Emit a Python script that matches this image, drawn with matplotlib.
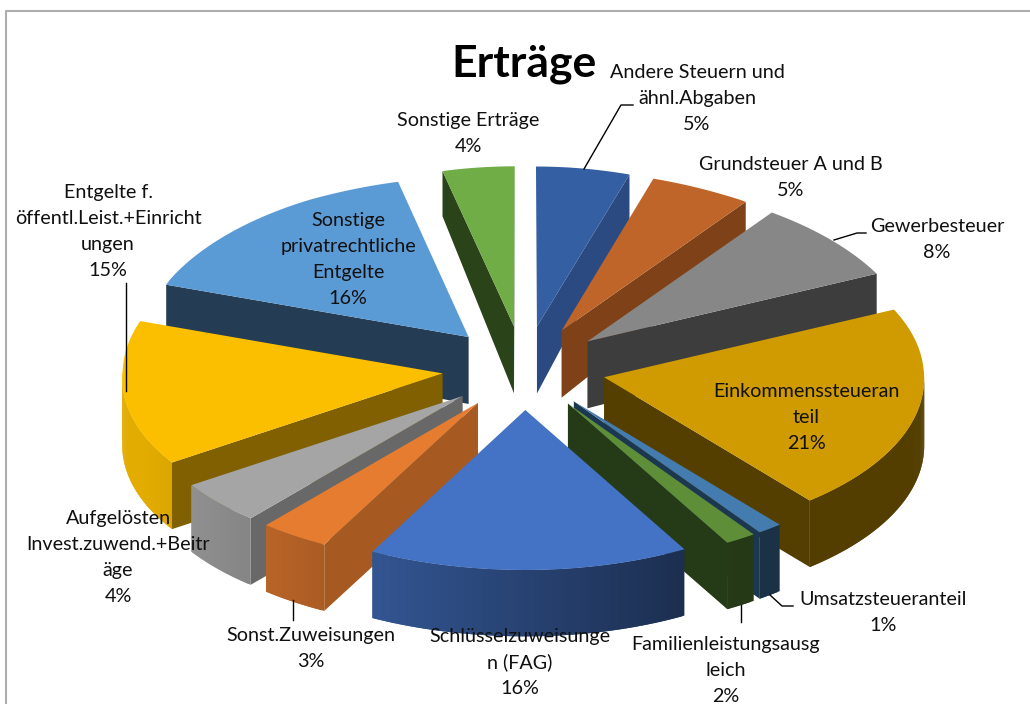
import numpy as np
import matplotlib
matplotlib.use("Agg")
import matplotlib.pyplot as plt
from matplotlib.patches import Polygon
from matplotlib.colors import to_rgb

# shares (they round to the printed labels), clockwise from 12 o'clock
labels = ["Andere Steuern und\nähnl.Abgaben", "Grundsteuer A und B", "Gewerbesteuer",
          "Einkommenssteueran\nteil", "Umsatzsteueranteil", "Familienleistungsausg\nleich",
          "Schlüsselzuweisunge\nn (FAG)", "Sonst.Zuweisungen",
          "Aufgelösten\nInvest.zuwend.+Beitr\näge", "Entgelte f.\nöffentl.Leist.+Einricht\nungen",
          "Sonstige\nprivatrechtliche\nEntgelte", "Sonstige Erträge"]
values = [5.05, 5.05, 7.95, 20.95, 1.25, 1.55, 15.9, 3.45, 4.45, 14.7, 15.8, 3.9]
top_colors = ["#355FA3", "#C0652A", "#878787", "#CF9B00", "#447CB0", "#5E8F38",
              "#4472C4", "#E67C30", "#A5A5A5", "#FBBF00", "#5B9BD5", "#70AD47"]
side_colors = ["#2B4A82", "#7F4218", "#3D3D3D", "#553F00", "#1C3750", "#253A16",
               "#19294F", "#A65A22", "#686868", "#806000", "#243C54", "#2B4319"]
# where each label block goes: centre x, baseline of its first line
label_pos = [(697, 78), (791, 170), (937, 232), (806, 397), (883, 605), (726, 650),
             (520, 642), (311, 641), (118, 524), (108, 198), (348, 226), (468, 126)]

# pie geometry in pixels
CX, CY = 524, 368
RX, RY = 320, 160
EX, EY = 82, 42
FS = 14.2
LINE = 26


def depth(y):
    # the back of the pie is drawn thinner than the rest
    return np.interp(y, [170, 325, 700], [45, 67, 66])


def rim_shade(u):
    return np.clip(0.58 - 0.35 * u, 0.4, 0.9)


def squeeze(pts):
    # horizontal perspective: the back narrows, the front widens (more on the left)
    pts = np.array(pts, float)
    front = np.where(pts[:, 0] < CX, 1.03, 1.01)
    f = np.interp(pts[:, 1], [168, 200, 280], [0.925, 0.975, 1.0])
    f = np.where(pts[:, 1] > 368, 1 + (front - 1) * np.minimum((pts[:, 1] - 368) / 202, 1), f)
    pts[:, 0] = CX + (pts[:, 0] - CX) * f
    return pts


def drop(pts):
    pts = np.asarray(pts, float)
    return pts + np.c_[np.zeros(len(pts)), depth(pts[:, 1])]


fig = plt.figure(figsize=(10.3, 7.04), dpi=100)
ax = fig.add_axes([0, 0, 1, 1])
ax.set_xlim(0, 1030); ax.set_ylim(704, 0); ax.axis("off")

shares = np.array(values) / sum(values) * 2 * np.pi
ends = np.cumsum(shares)
starts = ends - shares
order = np.argsort(-np.cos((starts + ends) / 2))   # back to front

for i in order:
    t1, t2 = starts[i], ends[i]
    tm = (t1 + t2) / 2
    tip = np.array([CX + EX * np.sin(tm), CY - EY * np.cos(tm)])
    th = np.linspace(t1, t2, max(3, int(np.degrees(t2 - t1) * 2)))
    arc = squeeze(np.c_[tip[0] + RX * np.sin(th), tip[1] - RY * np.cos(th)])
    tip = squeeze([tip])[0]
    # radial faces, only where they look at the viewer
    for edge, normal in [(arc[0], t1 - np.pi / 2), (arc[-1], t2 + np.pi / 2)]:
        if np.cos(normal) < 0:
            face = np.array([tip, edge])
            ax.add_patch(Polygon(np.r_[face, drop(face)[::-1]], fc=side_colors[i], lw=0))
    # rim, cut in thin overlapping strips to get the shading without seams
    base = np.array(to_rgb(top_colors[i]))
    for k in range(len(th) - 1):
        if np.cos((th[k] + th[k + 1]) / 2) < 0:
            seg = arc[k:k + 3]
            c = base * rim_shade(np.sin((th[k] + th[k + 1]) / 2))
            ax.add_patch(Polygon(np.r_[seg, drop(seg)[::-1]], fc=c, lw=0))
    ax.add_patch(Polygon(np.r_[[tip], arc], fc=top_colors[i], lw=0))

# chart frame (bottom and right are cut off in the source)
ax.plot([6, 6, 1030], [704, 11, 11], color="#ADADAD", lw=1.5, clip_on=False)

# leader lines
leaders = [[(584, 169), (621, 105), (633, 105)], [(834, 240), (857, 233), (866, 233)],
           [(126, 283), (126, 391)], [(293, 600), (293, 620)], [(741, 605), (741, 622)],
           [(770, 595), (782, 606), (793, 606)]]
for pts in leaders:
    xs, ys = zip(*pts)
    ax.plot(xs, ys, color="black", lw=1)

for lab, val, (x, y) in zip(labels, values, label_pos):
    for j, line in enumerate((lab + f"\n{round(val)}%").split("\n")):
        ax.text(x, y + j * LINE, line, ha="center", va="baseline", fontsize=FS, family="Lato", color="#101010")

ax.text(524, 77, "Erträge", ha="center", va="baseline", fontsize=32, fontweight="bold", family="Lato", color="black")

fig.savefig("out.png", dpi=100)
